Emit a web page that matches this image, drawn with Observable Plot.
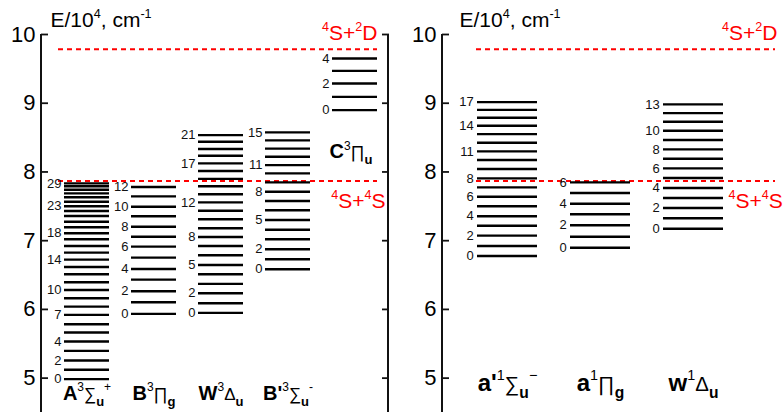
<!DOCTYPE html>
<html>
<head>
<meta charset="utf-8">
<script src="https://cdn.jsdelivr.net/npm/d3@7"></script>
<script src="https://cdn.jsdelivr.net/npm/@observablehq/plot@0.6"></script>
<style>
  html, body { margin: 0; padding: 0; background: #fff; overflow: hidden; }
  #wrap { position: relative; width: 783px; height: 412px; overflow: hidden; }
  #wrap > svg, #wrap > figure { position: absolute; top: 0; margin: 0; }
</style>
</head>
<body>
<div id="wrap"></div>
<script>
// ---------- DATA ----------
const yTicks = [5, 6, 7, 8, 9, 10];
const axisTitle = "E/10^{4}, cm^{-1}";

const limitNames = ["^{4}S+^{2}D", "^{4}S+^{4}S"];
const limitEnergies = [9.786, 7.868];

// triplet panel
const tripletStates = ["A", "B", "W", "B'", "C"];
const tripletLabels = ["A^{3}∑_{u}^{+}", "B^{3}∏_{g}", "W^{3}Δ_{u}", "B'^{3}∑_{u}^{-}", "C^{3}∏_{u}"];
const levelsA = [4.986, 5.121, 5.256, 5.397, 5.532, 5.663, 5.785, 5.920, 6.041, 6.163, 6.283, 6.395, 6.512, 6.618, 6.724, 6.826, 6.923, 7.020, 7.108, 7.195, 7.276, 7.359, 7.432, 7.500, 7.567, 7.631, 7.689, 7.741, 7.791, 7.834];
const levelsB = [5.935, 6.105, 6.265, 6.433, 6.589, 6.753, 6.913, 7.058, 7.203, 7.355, 7.494, 7.645, 7.781];
const levelsW = [5.949, 6.090, 6.235, 6.371, 6.512, 6.647, 6.788, 6.923, 7.054, 7.180, 7.311, 7.436, 7.558, 7.676, 7.792, 7.900, 8.013, 8.125, 8.235, 8.333, 8.439, 8.536];
const levelsBp = [6.584, 6.730, 6.875, 7.020, 7.160, 7.301, 7.442, 7.577, 7.712, 7.849, 7.980, 8.100, 8.221, 8.340, 8.459, 8.576];
const levelsC = [8.900, 9.093, 9.288, 9.471, 9.651];
const labelledA = [0, 2, 4, 7, 10, 14, 18, 23, 29];
const labelledB = [0, 2, 4, 6, 8, 10, 12];
const labelledW = [0, 2, 5, 8, 12, 17, 21];
const labelledBp = [0, 2, 5, 8, 11, 15];
const labelledC = [0, 2, 4];

// singlet panel
const singletStates = ["a'", "a", "w"];
const singletLabels = ["a'^{1}∑_{u}^{−}", "a^{1}∏_{g}", "w^{1}Δ_{u}"];
const levelsAp = [6.778, 6.923, 7.073, 7.218, 7.355, 7.500, 7.640, 7.776, 7.907, 8.042, 8.173, 8.299, 8.424, 8.551, 8.672, 8.788, 8.904, 9.016];
const levelsa = [6.898, 7.058, 7.224, 7.384, 7.538, 7.693, 7.849];
const levelsw = [7.174, 7.326, 7.475, 7.621, 7.766, 7.911, 8.052, 8.192, 8.328, 8.464, 8.599, 8.730, 8.856, 8.983];
const labelledAp = [0, 2, 4, 6, 8, 11, 14, 17];
const labelleda = [0, 2, 4, 6];
const labelledw = [0, 2, 4, 6, 8, 10, 13];

// ---------- BUILD TABLES ----------
function levelTable(states, levelLists, labelLists) {
  const rows = [];
  states.forEach((s, k) => {
    levelLists[k].forEach((E, v) => rows.push({state: s, v, E, labelled: labelLists[k].includes(v)}));
  });
  return rows;
}
const limits = limitNames.map((name, i) => ({name, E: limitEnergies[i]}));

const FONT = "'Liberation Sans', Arial, Helvetica, sans-serif";
const W = 401, H = 412, ML = 41, MR = 13, MT = 34, MB = 0;

function panel(cfg) {
  const n = cfg.states.length;
  const span = W - ML - MR;
  const step = span / (n - cfg.pi + 2 * cfg.po);
  const bw = step * (1 - cfg.pi);
  const levels = levelTable(cfg.states, cfg.levelLists, cfg.labelLists);
  const bottomStates = cfg.states.map((s, i) => ({state: s, label: cfg.labels[i]})).filter(d => !cfg.floating[d.state]);
  const floating = Object.keys(cfg.floating).map(s => ({state: s, label: cfg.labels[cfg.states.indexOf(s)], E: cfg.levelLists[cfg.states.indexOf(s)][0]}));

  const marks = [
    Plot.ruleY(limits, {y: "E", stroke: "#ff0000", strokeWidth: 2, strokeDasharray: "5,4", insetLeft: cfg.dashInsetLeft, insetRight: cfg.dashInsetRight}),
    Plot.tickY(levels, {x: "state", y: "E", stroke: "#000", strokeWidth: 2.4}),
    Plot.text(levels.filter(d => d.labelled), {x: "state", y: "E", text: d => String(d.v), textAnchor: "end", dx: -(bw / 2 + cfg.labelGap), fontSize: 13, fill: "#111"}),
    Plot.axisY({ticks: yTicks, tickSize: -7, tickPadding: 13, fontSize: 22, label: null, tickFormat: d => String(d), stroke: "#111", strokeWidth: 1.8, fill: "#000"}),
    Plot.axisY({anchor: "right", ticks: yTicks, tickSize: -7, tickFormat: () => "", label: null, stroke: "#111", strokeWidth: 1.8}),
    Plot.text(bottomStates, {x: "state", text: "label", frameAnchor: "bottom", lineAnchor: "bottom", dy: cfg.labelDy, fontSize: cfg.labelSize, fontWeight: "bold", fill: "#000"}),
    Plot.text(floating, {x: "state", y: "E", text: "label", lineAnchor: "bottom", dx: -4, dy: 48, fontSize: 20, fontWeight: "bold", fill: "#000"}),
    Plot.text([axisTitle], {text: d => d, frameAnchor: "top-left", textAnchor: "start", lineAnchor: "bottom", dx: cfg.titleDx, dy: -7.5, fontSize: 21, fill: "#000"}),
  ];
  cfg.limitLayout.forEach((lay, i) => {
    marks.push(Plot.text([limits[i]], {y: "E", text: "name", frameAnchor: "right", textAnchor: lay.anchor, lineAnchor: "bottom", dx: lay.dx, dy: lay.dy, fontSize: 21, fill: "#ff0000"}));
  });

  const svg = Plot.plot({
    width: W, height: H, marginLeft: ML, marginRight: MR, marginTop: MT, marginBottom: MB,
    style: {fontFamily: FONT, background: "transparent", overflow: "visible"},
    x: {type: "band", domain: cfg.states, paddingInner: cfg.pi, paddingOuter: cfg.po, align: cfg.align, axis: null},
    y: {domain: [4.5, 10]},
    marks
  });
  svg.style.left = cfg.left + "px";
  document.getElementById("wrap").appendChild(svg);

  // frame lines (left & right) from the scales
  const xr = svg.scale("x").range, yr = svg.scale("y").range;
  const sel = d3.select(svg);
  [xr[0], xr[1]].forEach(xx => {
    sel.append("line").attr("x1", xx).attr("x2", xx).attr("y1", Math.min(...yr)).attr("y2", H + 2)
      .attr("stroke", "#111").attr("stroke-width", 2);
  });
  richify(svg);
}

function richify(root) {
  const NS = "http://www.w3.org/2000/svg";
  root.querySelectorAll("text").forEach(t => {
    const s = t.textContent;
    if (!/[\^_]\{|[∑∏Δ]/.test(s)) return;
    const cs = getComputedStyle(t);
    const base = parseFloat(cs.fontSize);
    t.textContent = "";
    let shift = 0;
    const re = /(\^|_)\{([^}]*)\}|([∑∏Δ])|([^\^_∑∏Δ]+)/g;
    let m;
    while ((m = re.exec(s))) {
      const ts = document.createElementNS(NS, "tspan");
      let target = 0, size = base, text, weight = null;
      if (m[1] === "^") { target = -0.42 * base; size = 0.6 * base; text = m[2]; weight = "normal"; }
      else if (m[1] === "_") { target = 0.3 * base; size = 0.65 * base; text = m[2]; }
      else if (m[3]) { size = 0.85 * base; text = m[3]; weight = "normal"; }
      else { text = m[4]; }
      const d = target - shift;
      if (d !== 0) ts.setAttribute("dy", d.toFixed(2));
      shift = target;
      ts.setAttribute("font-size", size.toFixed(2));
      if (weight) ts.setAttribute("font-weight", weight);
      ts.textContent = text;
      t.appendChild(ts);
    }
  });
}

panel({
  left: 0,
  states: tripletStates, labels: tripletLabels,
  levelLists: [levelsA, levelsB, levelsW, levelsBp, levelsC],
  labelLists: [labelledA, labelledB, labelledW, labelledBp, labelledC],
  floating: {"C": true},
  pi: 0.332, po: 0.248, align: 0.67,
  labelGap: 3, labelDy: -13, labelSize: 20, titleDx: 9,
  dashInsetLeft: 17, dashInsetRight: 11,
  limitLayout: [{anchor: "end", dx: -11, dy: -9.5}, {anchor: "end", dx: -3, dy: 26.5}]
});

panel({
  left: 401,
  states: singletStates, labels: singletLabels,
  levelLists: [levelsAp, levelsa, levelsw],
  labelLists: [labelledAp, labelleda, labelledw],
  floating: {},
  pi: 0.36, po: 0.5455, align: 0.34,
  labelGap: 4, labelDy: -22, labelSize: 24, titleDx: 17,
  dashInsetLeft: 34, dashInsetRight: 14,
  limitLayout: [{anchor: "end", dx: -12, dy: -9.5}, {anchor: "start", dx: -61, dy: 26.5}]
});
</script>
</body>
</html>
